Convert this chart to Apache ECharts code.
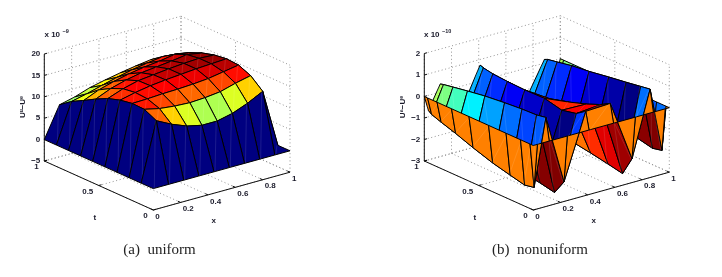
<!DOCTYPE html>
<html><head><meta charset="utf-8">
<style>html,body{margin:0;padding:0;background:#fff}#c{width:722px;height:277px}</style>
<script src="https://cdn.jsdelivr.net/npm/echarts@6/dist/echarts.min.js"></script>
</head><body><div id="c"></div>
<script>
// ---------- data ----------
const xTicks = [0, 0.2, 0.4, 0.6, 0.8, 1];
const tTicks = [0, 0.5, 1];
const zTicksA = [-5, 0, 5, 10, 15, 20];
const zTicksB = [-3, -2, -1, 0, 1, 2];

const nodesA = [0, 0.111, 0.222, 0.333, 0.444, 0.556, 0.667, 0.778, 0.889, 1];
const nodesB = [0, 0.03, 0.117, 0.25, 0.41, 0.59, 0.75, 0.883, 0.97, 1];

// rows: t node, columns: x node
const surfaceA = [
 [0,0,0,0,0,0,0,0,0,0],
 [0,13.6,11.8,10.4,9.6,9.6,10.4,11.8,13.6,0],
 [0,15.0,14.2,13.8,13.6,13.8,14.2,15.2,16.0,0],
 [0,15.1,15.2,15.4,15.5,15.7,16.0,16.6,17.2,0],
 [0,14.6,15.4,16.0,16.4,16.7,17.0,17.2,17.4,0],
 [0,13.7,15.0,15.9,16.3,16.7,17.0,17.2,17.0,0],
 [0,12.3,13.8,14.8,15.5,15.9,16.3,16.8,16.2,0],
 [0,10.7,12.2,13.2,14.0,14.6,15.0,15.6,15.0,0],
 [0,9.2,10.0,11.0,11.9,12.7,13.3,13.8,13.5,0],
 [0,7.15,8.0,9.2,10.0,10.7,11.3,11.8,11.0,0]
];
const surfaceB = [
 [0,0,0,0,0,0,0,0,0,0],
 [0,-2.07,1.03,-2.2,0.8,0.85,-2.0,1.0,-2.0,0],
 [0,-2.16,0.95,-2.89,0.5,0.6,-2.89,0.93,-2.1,0],
 [0,-2.0,0.92,-2.75,0.35,0.32,-2.75,0.82,-1.95,0],
 [0,-1.8,0.85,-2.62,0.54,0.05,-2.6,0.7,-1.75,0],
 [0,-1.5,0.75,-2.45,0.52,-0.2,-2.45,0.55,-1.5,0],
 [0,-1.2,0.62,-2.25,0.55,-0.4,-2.25,0.45,-1.2,0],
 [0,-0.98,0.5,-2.05,0.6,-0.5,-2.05,0.32,-0.98,0],
 [0,-0.82,0.42,-1.75,0.68,-0.5,-1.75,0.24,-0.82,0],
 [0,-0.7,0.375,-1.4,0.74,-0.5,-1.4,0.17,-0.7,0]
];
const captionA = '(a)  uniform';
const captionB = '(b)  nonuniform';
const labelA = 'U\u1D58\u2212U\u1D49';
const labelB = 'U\u207F\u2212U\u1D49';
const exponentA = '\u22129';
const exponentB = '\u221210';

// ---------- projection of each panel's box onto the page ----------
const panelA = {ox:153.3, oy:210, xx:136.7, xy:-37.8, tx:-109, ty:-49, zs:4.28, zmin:-5, zmax:20, cmin:0, cmax:17.6,
  zTicks:zTicksA, nodes:nodesA, surf:surfaceA, caption:captionA, capX:159.5, label:labelA, labX:23, labY:107, exp:exponentA, expX:44.5, cap:'x 10'};
const panelB = {ox:533.3, oy:210, xx:136, xy:-37.8, tx:-109, ty:-49, zs:21.5, zmin:-3, zmax:2, cmin:-2.9, cmax:0.97,
  zTicks:zTicksB, nodes:nodesB, surf:surfaceB, caption:captionB, capX:540, label:labelB, labX:403, labY:107, exp:exponentB, expX:424, cap:'x 10'};

function project(p, x, t, z){
  return [p.ox + p.xx*x + p.tx*t, p.oy + p.xy*x + p.ty*t - (z - p.zmin)*p.zs];
}
function jet(v){
  v = Math.max(0, Math.min(1, v));
  const f = c => Math.round(255*Math.max(0, Math.min(1, c)));
  const r = f(Math.min(4*v-1.5, -4*v+4.5));
  const g = f(Math.min(4*v-0.5, -4*v+3.5));
  const b = f(Math.min(4*v+0.5, -4*v+2.5));
  return `rgb(${r},${g},${b})`;
}
function panelSeries(p){
  const dm = p.zmin, dM = p.zmax;
  // grid + axes segments as [x0,t0,z0,x1,t1,z1,kind]  kind 0=dotted 1=solid
  const seg = [];
  p.zTicks.forEach(z=>{ seg.push([0,1,z,1,1,z,0]); seg.push([1,1,z,1,0,z,0]); });
  xTicks.forEach(x=>{ seg.push([x,1,dm,x,1,dM,0]); seg.push([x,0,dm,x,1,dm,0]); });
  tTicks.forEach(t=>{ seg.push([1,t,dm,1,t,dM,0]); seg.push([0,t,dm,1,t,dm,0]); });
  seg.push([0,1,dm,0,1,dM,1],[0,0,dm,0,1,dm,1],[0,0,dm,1,0,dm,1]);
  xTicks.forEach(x=>seg.push([x,0,dm,x,0.025,dm,1]));
  tTicks.forEach(t=>seg.push([0,t,dm,0.02,t,dm,1]));
  p.zTicks.forEach(z=>seg.push([0,1,z,0.02,1,z,1]));

  // surface cells, far corner first
  const cells = [];
  const n = p.nodes.length-1;
  for(let k=n-1;k>=0;k--) for(let i=n-1;i>=0;i--){
    const s=p.surf;
    cells.push([p.nodes[i],p.nodes[i+1],p.nodes[k],p.nodes[k+1],s[k][i],s[k][i+1],s[k+1][i+1],s[k+1][i]]);
  }
  // text rows
  const txt = [];
  const base = project(p,0,0,dm);
  xTicks.forEach(x=>{const q=project(p,x,0,dm);txt.push({s:String(x),x:q[0]+2,y:q[1]+6.5,a:'left'});});
  tTicks.forEach(t=>{const q=project(p,0,t,dm);txt.push({s:String(t),x:q[0]-5.5,y:q[1]+6,a:'right'});});
  p.zTicks.forEach(z=>{const q=project(p,0,1,z);txt.push({s:String(z).replace('-','\u2212'),x:q[0]-4,y:q[1],a:'right'});});
  txt.push({s:'x',x:base[0]+60.5,y:221,a:'center'});
  txt.push({s:'t',x:base[0]-58.5,y:218,a:'center'});
  txt.push({s:p.cap,x:p.expX,y:35,a:'left'});
  txt.push({s:p.exp,x:p.expX+18,y:31,a:'left',small:1});
  txt.push({s:p.label,x:p.labX,y:p.labY,a:'center',rot:1});
  txt.push({s:p.caption,x:p.capX,y:250,a:'center',cap:1});

  return [
   {type:'custom',silent:true,clip:false,animation:false,z:1,data:seg,
    renderItem:(ps,api)=>{
      const a=api.coord(project(p,api.value(0),api.value(1),api.value(2)));
      const b=api.coord(project(p,api.value(3),api.value(4),api.value(5)));
      const solid=api.value(6)===1;
      return {type:'line',shape:{x1:a[0],y1:a[1],x2:b[0],y2:b[1]},
        style:solid?{stroke:'#111',lineWidth:1}:{stroke:'#888',lineWidth:0.9,lineDash:[1,2.6]}};
    }},
   {type:'custom',silent:true,clip:false,animation:false,z:2,data:cells,
    renderItem:(ps,api)=>{
      const x0=api.value(0),x1=api.value(1),t0=api.value(2),t1=api.value(3);
      const A=api.coord(project(p,x0,t0,api.value(4)));
      const B=api.coord(project(p,x1,t0,api.value(5)));
      const C=api.coord(project(p,x1,t1,api.value(6)));
      const D=api.coord(project(p,x0,t1,api.value(7)));
      const col=jet((api.value(4)-p.cmin)/(p.cmax-p.cmin));
      return {type:'group',children:[
        {type:'polygon',shape:{points:[A,B,C,D]},style:{fill:col,stroke:'#000',lineWidth:1,lineJoin:'round'}},
        {type:'line',shape:{x1:A[0]+1,y1:A[1],x2:C[0]-1,y2:C[1]},style:{stroke:'rgba(255,255,255,0.16)',lineWidth:0.7}}
      ]};
    }},
   {type:'custom',silent:true,clip:false,animation:false,z:3,data:txt.map((_,i)=>[i]),
    renderItem:(ps,api)=>{
      const r=txt[api.value(0)];
      const q=api.coord([r.x,r.y]);
      const font=r.cap?'15px "Liberation Serif"':(r.small?'bold 5.5px "Liberation Sans"':'bold 8px "Liberation Sans"');
      return {type:'text',x:q[0],y:q[1],rotation:r.rot?Math.PI/2:0,
        style:{text:r.s,font:font,fill:r.cap?'#222':'#1a1a2a',textAlign:r.a,textVerticalAlign:'middle'}};
    }}
  ];
}
const chart = echarts.init(document.getElementById('c'),null,{renderer:'canvas'});
chart.setOption({
  animation:false,backgroundColor:'#fff',
  grid:{left:0,right:0,top:0,bottom:0},
  xAxis:{type:'value',min:0,max:722,show:false},
  yAxis:{type:'value',min:0,max:277,inverse:true,show:false},
  series:[...panelSeries(panelA),...panelSeries(panelB)]
});
</script></body></html>
